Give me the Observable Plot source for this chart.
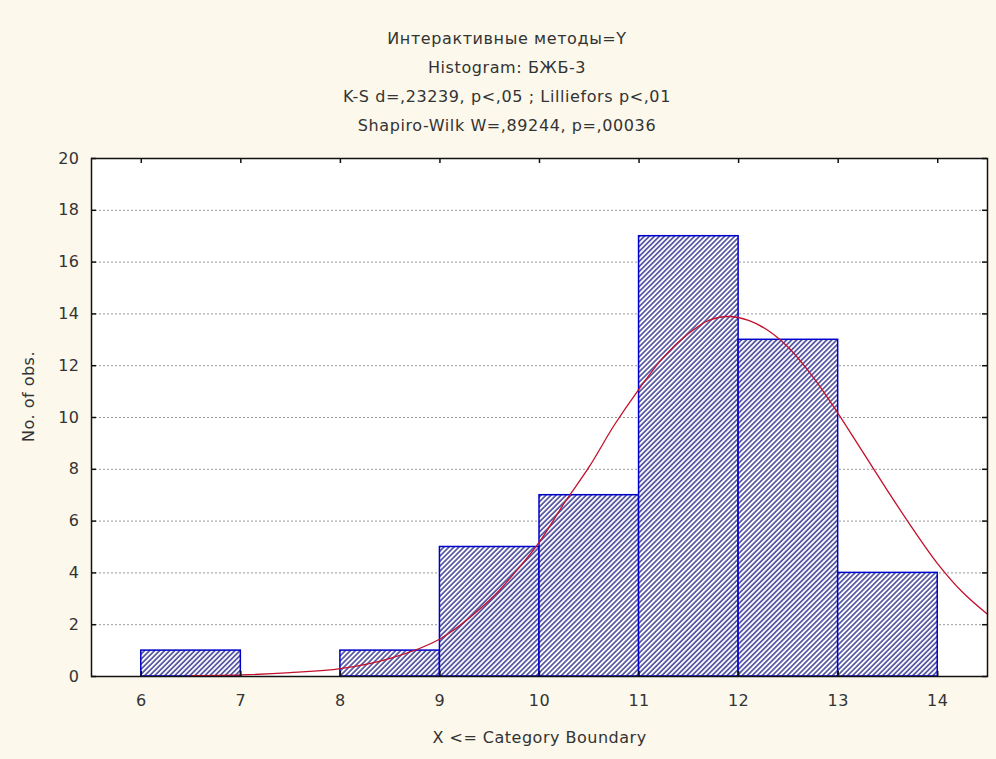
<!DOCTYPE html>
<html>
<head>
<meta charset="utf-8">
<script src="https://cdn.jsdelivr.net/npm/d3@7"></script>
<script src="https://cdn.jsdelivr.net/npm/@observablehq/plot@0.6"></script>
<style>
  html, body { margin: 0; padding: 0; background: #fcf8ec; }
  #wrap { width: 996px; height: 759px; overflow: hidden; }
  #titles { height: 140px; box-sizing: border-box; padding-top: 24px; padding-left: 18px;
    text-align: center; font-family: "DejaVu Sans", sans-serif; font-size: 16px;
    line-height: 29px; color: #333; letter-spacing: 0.6px; }
  #titles div { height: 29px; }
  svg { display: block; }
</style>
</head>
<body>
<div id="wrap">
  <div id="titles"></div>
  <div id="chart"></div>
</div>
<script>
// ---- data ----
const titleLines = [
  "Интерактивные методы=Y",
  "Histogram: БЖБ-3",
  "K-S d=,23239, p<,05 ; Lilliefors p<,01",
  "Shapiro-Wilk W=,89244, p=,00036"
];
const binLo  = [6, 7, 8, 9, 10, 11, 12, 13];
const binHi  = [7, 8, 9, 10, 11, 12, 13, 14];
const counts = [1, 0, 1, 5, 7, 17, 13, 4];
// expected-normal curve
const curveX = [6.5, 7, 7.5, 8, 8.5, 9, 9.5, 9.75, 10, 10.25, 10.5, 10.75, 11, 11.25, 11.5, 11.7, 11.9, 12.1, 12.3, 12.5, 12.75, 13, 13.25, 13.5, 13.75, 14, 14.25, 14.5];
const curveY = [0.03, 0.06, 0.15, 0.3, 0.7, 1.45, 2.95, 4.0, 5.2, 6.7, 8.1, 9.7, 11.1, 12.35, 13.25, 13.75, 13.9, 13.75, 13.35, 12.7, 11.55, 10.15, 8.65, 7.15, 5.7, 4.35, 3.25, 2.4];
const xTicks = [6, 7, 8, 9, 10, 11, 12, 13, 14];
const yTicks = [0, 2, 4, 6, 8, 10, 12, 14, 16, 18, 20];
const gridY  = [2, 4, 6, 8, 10, 12, 14, 16, 18];
const xLabel = "X <= Category Boundary";
const yLabel = "No. of obs.";

const titles = document.getElementById("titles");
for (const t of titleLines) { const d = document.createElement("div"); d.textContent = t; titles.appendChild(d); }

const bars = binLo.map((lo, i) => ({lo, hi: binHi[i], n: counts[i]})).filter(d => d.n > 0);
const curve = curveX.map((x, i) => ({x, y: curveY[i]}));

const W = 996, H = 619, mL = 91, mR = 9, mT = 18, mB = 83;
const pw = W - mL - mR, ph = H - mT - mB;

const chart = Plot.plot({
  width: W, height: H,
  marginLeft: mL, marginRight: mR, marginTop: mT, marginBottom: mB,
  style: {fontFamily: "DejaVu Sans, sans-serif", fontSize: "16px", color: "#333", background: "transparent", letterSpacing: "0.5px"},
  x: {domain: [5.5, 14.5], ticks: xTicks, label: null},
  y: {domain: [0, 20], ticks: yTicks, label: null},
  marks: [
    Plot.frame({fill: "white", stroke: "none"}),
    Plot.ruleY(gridY, {y: d => d, stroke: "#999", strokeDasharray: "2,2", strokeWidth: 1}),
    Plot.rectY(bars, {x1: "lo", x2: "hi", y: "n", fill: "url(#hatch)", stroke: "#0000cc", strokeWidth: 1.5}),
    Plot.line(curve, {x: "x", y: "y", stroke: "#c4102c", strokeWidth: 1.3, curve: "catmull-rom"}),
    // inward ticks on all four sides
    Plot.ruleY(yTicks, {y: d => d, insetRight: pw - 5, stroke: "#111", strokeWidth: 1.5}),
    Plot.ruleY(yTicks, {y: d => d, insetLeft: pw - 5, stroke: "#111", strokeWidth: 1.5}),
    Plot.ruleX(xTicks, {x: d => d, insetTop: ph - 5, stroke: "#111", strokeWidth: 1.5}),
    Plot.ruleX(xTicks, {x: d => d, insetBottom: ph - 5, stroke: "#111", strokeWidth: 1.5}),
    Plot.axisX(xTicks, {anchor: "bottom", tickSize: 0, tickPadding: 18, label: null, fontSize: 16}),
    Plot.axisY(yTicks, {anchor: "left", tickSize: 0, tickPadding: 12, label: null, fontSize: 16}),
    Plot.text([xLabel], {frameAnchor: "bottom", text: d => d, dy: 66, fontSize: 16, textAnchor: "middle"}),
    Plot.text([yLabel], {frameAnchor: "left", text: d => d, rotate: -90, dx: -63, dy: -21, fontSize: 16, textAnchor: "middle"}),
    Plot.frame({stroke: "#111", strokeWidth: 1.5})
  ]
});

const svg = d3.select(chart);
const defs = svg.insert("defs", ":first-child");
const pat = defs.append("pattern")
  .attr("id", "hatch")
  .attr("patternUnits", "userSpaceOnUse")
  .attr("width", 3.55).attr("height", 3.55)
  .attr("patternTransform", "rotate(45)");
pat.append("rect").attr("width", 3.55).attr("height", 3.55).attr("fill", "white");
pat.append("line").attr("x1", 1.8).attr("y1", 0).attr("x2", 1.8).attr("y2", 3.55)
  .attr("stroke", "#1e1e84").attr("stroke-width", 1.3);

document.getElementById("chart").appendChild(chart);
</script>
</body>
</html>
